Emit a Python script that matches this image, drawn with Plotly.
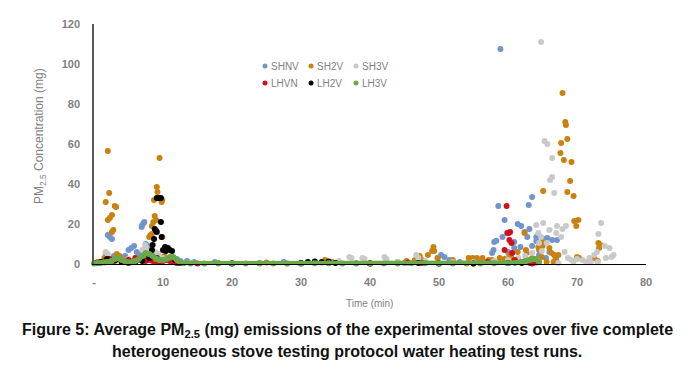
import plotly.graph_objects as go

# ---------------- data ----------------
shnv_x = [0.3, 1.0, 1.5, 2.0, 2.3, 2.6, 2.9, 3.5, 4.0, 4.5, 5.0, 5.4, 5.8, 6.2, 6.6, 6.9, 7.0, 7.2, 7.3,
          7.5, 7.8, 8.2, 9.0, 10.0, 11.0, 12.0, 12.5, 13.5, 14.5, 17.5, 20.0, 24.0, 27.5, 33.0, 38.0, 45.0,
          49.8, 50.3, 50.8, 51.5, 53.0, 56.0,
          57.7, 57.9, 58.0, 58.3, 58.6, 58.9, 59.2, 59.5, 60.0, 60.9, 60.9, 61.4, 61.8, 61.9, 62.4, 62.8,
          63.0, 63.5, 63.1, 63.5, 64.1, 64.1, 64.5, 65.1, 65.7, 66.4, 67.1, 66.0, 65.5, 67.0]
shnv_y = [0.5, 1.0, 2.0, 14.5, 13.5, 12.5, 4.0, 3.0, 2.5, 4.0, 7.0, 8.0, 9.0, 6.0, 5.0, 18.5, 19.5, 20.5, 21.0,
          10.0, 9.0, 6.0, 4.0, 3.0, 3.0, 2.5, 1.5, 1.5, 1.0, 1.0, 0.5, 0.5, 1.0, 0.8, 0.5, 0.5,
          3.0, 4.5, 3.5, 2.0, 1.0, 1.0,
          5.5, 7.0, 11.0, 11.6, 29.0, 107.5, 13.5, 22.0, 6.0, 8.0, 11.0, 20.0, 8.5, 19.0, 16.0, 13.5,
          29.5, 33.5, 17.5, 9.0, 11.5, 13.5, 4.5, 12.5, 13.0, 12.0, 12.0, 6.0, 3.0, 2.0]

sh2v_x = [0.5, 1.5, 1.7, 1.7, 2.0, 2.0, 2.2, 2.3, 2.6, 2.6, 2.8, 3.0, 3.2, 3.3, 3.7, 4.5, 5.5, 6.5, 7.5,
          8.0, 8.2, 8.4, 8.4, 8.6, 8.7, 8.8, 9.0, 9.1, 9.2, 9.5, 9.8, 9.9, 9.9, 10.2, 11.0, 12.0, 14.0,
          18.0, 25.0, 30.0, 33.5, 34.5, 40.0, 44.0, 45.3, 46.5, 47.2, 47.5, 48.4, 49.0, 49.2, 49.3, 49.8,
          52.0, 54.3, 54.9, 55.5, 56.3, 57.2, 57.7, 58.8, 59.5, 60.2, 60.5, 61.4, 62.4, 62.6, 62.7, 63.5,
          64.4, 64.5, 64.9, 65.0, 65.0, 65.1, 65.6, 66.0, 66.3, 66.6, 66.7, 66.9, 67.3, 67.6, 67.7, 67.9,
          68.1, 68.3, 68.4, 68.6, 68.6, 69.0, 69.2, 69.6, 69.5, 69.9, 70.0, 70.2, 70.3, 72.5, 73.0, 73.1,
          73.2, 73.4]
sh2v_y = [1.0, 3.0, 31.0, 5.5, 56.5, 22.0, 35.5, 23.0, 24.5, 16.0, 17.0, 29.0, 28.5, 5.0, 4.0, 2.0, 1.5, 2.0, 3.0,
          13.5, 14.5, 19.0, 15.0, 21.0, 32.0, 24.0, 22.0, 38.5, 36.0, 53.0, 31.0, 32.0, 13.5, 4.0, 2.0, 1.0, 0.5,
          0.5, 0.8, 0.5, 2.0, 1.0, 0.5, 1.0, 1.5, 2.0, 4.0, 2.0, 4.5, 6.5, 8.5, 6.5, 3.0,
          2.0, 3.0, 3.0, 3.0, 3.0, 2.0, 2.0, 3.0, 2.5, 4.5, 3.0, 6.0, 15.5, 7.0, 5.5, 3.0,
          8.5, 7.0, 3.5, 11.0, 9.0, 36.5, 1.0, 8.0, 5.5, 1.0, 4.5, 3.0, 4.5, 55.5, 60.5, 85.5,
          52.0, 71.0, 69.5, 62.5, 36.0, 41.5, 51.0, 21.5, 34.0, 19.0, 3.5, 22.0, 3.0, 3.0, 1.5, 10.5,
          8.0, 9.5]

sh3v_x = [0.5, 1.7, 2.0, 3.0, 4.0, 5.0, 6.0, 7.0, 7.4, 7.6, 8.0, 8.4, 8.9, 9.3, 10.0, 11.0, 12.0, 14.0,
          20.0, 28.0, 34.0, 35.5, 37.0, 37.3, 38.9, 39.2, 42.1, 42.4, 44.0, 46.7, 47.0, 48.0, 52.0, 55.0,
          58.0, 60.0, 61.5, 62.5, 63.5, 64.1, 64.4, 64.5, 64.8, 64.8, 64.9, 65.1, 65.3, 65.6, 65.7, 66.0,
          66.1, 66.4, 66.4, 66.7, 67.0, 67.1, 67.3, 67.7, 67.9, 68.2, 68.4, 68.7, 69.2, 69.5, 70.0, 70.8,
          71.3, 71.8, 72.0, 72.5, 72.9, 73.1, 73.5, 74.0, 74.2, 74.7, 75.0, 75.3, 73.0]
sh3v_y = [0.5, 6.0, 5.0, 2.0, 2.0, 2.5, 3.0, 7.0, 9.5, 8.0, 6.0, 5.5, 6.0, 5.0, 3.0, 2.0, 1.0, 0.5,
          0.3, 0.3, 0.5, 1.5, 3.5, 3.0, 3.0, 2.5, 3.5, 2.5, 1.0, 4.5, 3.0, 1.5, 1.0, 1.0,
          1.5, 2.0, 3.0, 4.0, 5.5, 19.5, 15.5, 10.5, 13.5, 111.0, 6.5, 20.5, 61.5, 10.5, 60.0, 17.0,
          42.0, 53.0, 43.5, 35.5, 15.5, 19.0, 0.5, 13.5, 17.5, 6.0, 19.0, 3.0, 2.0, 1.0, 2.5, 2.0,
          1.0, 3.0, 1.0, 4.5, 6.0, 15.0, 20.5, 9.0, 3.0, 8.0, 3.5, 4.5, 1.0]

lhvn_x = [0.3, 1.0, 1.7, 2.3, 3.0, 4.0, 5.0, 6.0, 7.0, 7.5, 8.0, 8.5, 9.0, 9.5, 10.0, 10.5, 11.0, 11.5,
          12.0, 15.0, 20.0, 30.0, 40.0, 45.5, 47.5, 50.0, 55.0, 57.0, 59.5, 59.8, 59.9, 60.1, 60.3, 60.2,
          60.5, 60.6, 61.0, 62.0, 63.2, 63.5, 64.0]
lhvn_y = [0.5, 1.0, 2.0, 2.5, 1.5, 1.0, 2.0, 3.0, 2.0, 1.5, 2.0, 1.5, 1.0, 1.0, 1.5, 2.0, 1.5, 1.0,
          0.5, 0.3, 0.3, 0.3, 0.3, 0.8, 0.5, 0.3, 0.3, 1.0, 7.0, 29.0, 15.5, 15.5, 16.0, 12.0,
          10.5, 5.5, 2.0, 1.0, 0.5, 0.3, 0.8]

lh2v_x = [0.5, 1.0, 1.9, 2.5, 3.1, 4.0, 5.0, 6.0, 7.0, 8.0, 8.4, 8.5, 8.7, 8.8, 9.0, 9.1, 9.1, 9.4, 9.7,
          9.7, 9.8, 9.1, 10.0, 10.3, 10.4, 10.7, 11.0, 11.3, 11.8, 12.5, 20.0, 30.0, 31.0, 32.0, 33.0,
          34.0, 35.0, 40.0, 47.0, 50.0, 55.0, 60.0, 62.0]
lh2v_y = [0.5, 1.0, 2.5, 1.5, 2.0, 1.0, 0.5, 1.0, 1.5, 3.0, 7.0, 9.5, 12.5, 17.5, 16.5, 16.0, 33.0, 33.0, 33.0,
          21.0, 13.5, 3.0, 7.0, 8.5, 6.5, 8.0, 7.0, 6.5, 2.0, 0.5, 0.3, 0.5, 1.0, 1.2, 1.0,
          1.3, 0.5, 0.3, 0.5, 0.3, 0.3, 0.5, 0.5]

lh3v_x = [0.0, 0.5, 1.0, 1.5, 2.0, 2.5, 3.0, 3.5, 4.0, 4.5, 5.0, 5.5, 6.0, 6.5, 7.0, 7.5, 8.0, 8.5, 9.0,
          9.5, 10.0, 10.5, 11.0, 11.5, 12.0, 12.5, 13.0, 14.0, 16.0, 18.0, 20.0, 22.0, 24.0, 26.0, 28.0,
          30.0, 32.0, 34.0, 36.0, 38.0, 40.0, 42.0, 44.0, 46.0, 48.0, 50.0, 52.0, 54.0, 56.0, 58.0, 60.0,
          61.0, 62.0, 62.5, 63.0, 63.5, 64.0, 64.5]
lh3v_y = [0.3, 0.5, 0.5, 0.8, 1.0, 1.5, 2.5, 3.0, 2.0, 1.2, 0.8, 1.0, 1.5, 2.5, 4.0, 5.5, 5.0, 4.0, 2.5,
          2.0, 2.0, 2.5, 3.5, 3.5, 2.0, 0.8, 0.4, 0.3, 0.3, 0.3, 0.3, 0.3, 0.3, 0.3, 0.3,
          0.3, 0.4, 0.4, 0.3, 0.3, 0.3, 0.3, 0.3, 0.4, 0.4, 0.3, 0.3, 0.3, 0.3, 0.4, 0.4,
          0.5, 1.0, 1.5, 2.0, 2.5, 2.5, 1.0]

series_names = ["SHNV", "SH2V", "SH3V", "LHVN", "LH2V", "LH3V"]
series_colors = ["#7394cb", "#c9820f", "#c9c9c9", "#d0101c", "#000000", "#6aa84a"]

x_tick_vals = [0, 10, 20, 30, 40, 50, 60, 70, 80]
x_tick_text = ["-", "10", "20", "30", "40", "50", "60", "70", "80"]
y_tick_vals = [0, 20, 40, 60, 80, 100, 120]

# ---------------- figure ----------------
W, H = 695, 371
L, R, T, B = 94, 646, 24, 264


def px(xp):
    return (xp - L) / (R - L)


def py(yp):
    return (B - yp) / (B - T)


fig = go.Figure()
data = [(shnv_x, shnv_y), (sh2v_x, sh2v_y), (sh3v_x, sh3v_y),
        (lhvn_x, lhvn_y), (lh2v_x, lh2v_y)]
for (xs, ys), name, col in zip(data, series_names[:5], series_colors[:5]):
    fig.add_trace(go.Scatter(x=xs, y=ys, mode="markers", name=name,
                             marker=dict(color=col, size=6, line=dict(width=0)),
                             cliponaxis=False, showlegend=False))
fig.add_trace(go.Scatter(x=lh3v_x, y=lh3v_y, mode="lines+markers", name="LH3V",
                         line=dict(color=series_colors[5], width=5),
                         marker=dict(color=series_colors[5], size=6, line=dict(width=0)),
                         cliponaxis=False, showlegend=False))

gray = "#7f7f7f"
FONT = "Liberation Sans, Arial, sans-serif"
fig.update_layout(
    width=W, height=H,
    margin=dict(l=L, r=W - R, t=T, b=H - B),
    paper_bgcolor="white", plot_bgcolor="white",
    font=dict(family=FONT, color=gray),
    xaxis=dict(range=[0, 80], tickvals=x_tick_vals, ticktext=x_tick_text,
               showgrid=False, zeroline=False, showline=True, linecolor="#000000",
               linewidth=1, ticks="", ticklabelstandoff=8,
               tickfont=dict(size=11, color=gray, family=FONT, weight="bold")),
    yaxis=dict(range=[0, 120], tickvals=y_tick_vals,
               showgrid=False, zeroline=False, showline=True, linecolor="#595959",
               linewidth=1.5, ticks="", ticklabelstandoff=10,
               tickfont=dict(size=11, color=gray, family=FONT, weight="bold")),
)

annotations = [
    dict(text="Time (min)", x=px(369), y=py(303), xref="paper", yref="paper",
         xanchor="center", yanchor="middle",
         showarrow=False, font=dict(size=10, color=gray)),
    dict(text="PM<sub>2.5</sub> Concentration (mg)", x=px(40), y=py(136), xref="paper", yref="paper",
         xanchor="center", yanchor="middle",
         showarrow=False, textangle=-90, font=dict(size=12, color=gray)),
    dict(text="<b>Figure 5: Average PM<sub>2.5</sub> (mg) emissions of the experimental stoves over five complete</b>",
         x=px(347), y=py(330), xref="paper", yref="paper", showarrow=False,
         xanchor="center", yanchor="middle",
         font=dict(size=16, color="#111111")),
    dict(text="<b>heterogeneous stove testing protocol water heating test runs.</b>",
         x=px(347), y=py(351), xref="paper", yref="paper", showarrow=False,
         xanchor="center", yanchor="middle",
         font=dict(size=16, color="#111111")),
]

# manual legend (2 rows x 3 columns)
leg_pos = [(265, 66), (311, 66), (356, 66), (265, 83), (311, 83), (356, 83)]
shapes = []
for (lx, ly), name, col in zip(leg_pos, series_names, series_colors):
    shapes.append(dict(type="circle", xref="paper", yref="paper", xsizemode="pixel", ysizemode="pixel",
                       xanchor=px(lx), yanchor=py(ly), x0=-2.5, x1=2.5, y0=-2.5, y1=2.5,
                       fillcolor=col, line=dict(width=0)))
    annotations.append(dict(text=name, x=px(lx + 4), y=py(ly), xref="paper", yref="paper",
                            xanchor="left", yanchor="middle", showarrow=False,
                            font=dict(size=10, color=gray)))

fig.update_layout(annotations=annotations, shapes=shapes)
fig.write_html("out.html", config={"displayModeBar": False},
               post_script="document.body.style.margin='0';document.body.style.padding='0';")
